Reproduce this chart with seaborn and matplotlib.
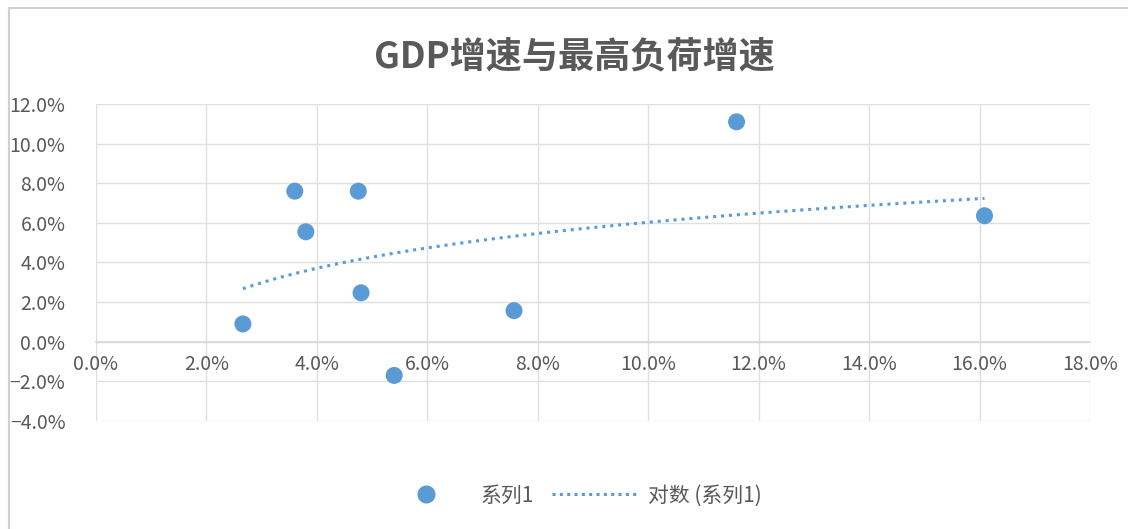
import numpy as np
import pandas as pd
import matplotlib
matplotlib.use("Agg")
import matplotlib.pyplot as plt
import seaborn as sns
from matplotlib.ticker import PercentFormatter, MultipleLocator
from matplotlib.lines import Line2D
from matplotlib.patches import Rectangle

# values (percent)
gdp_growth = [2.66, 3.60, 3.80, 4.75, 4.80, 5.40, 7.57, 11.60, 16.09]
load_growth = [0.90, 7.60, 5.55, 7.60, 2.47, -1.70, 1.57, 11.10, 6.36]
title = "GDP增速与最高负荷增速"
series_name = "系列1"
trend_name = "对数 (系列1)"

BLUE = "#5B9BD5"
GREY_TEXT = "#595959"
GRID = "#D9D9D9"

sns.set_theme(style="white")
plt.rcParams["font.family"] = ["Noto Sans CJK SC", "DejaVu Sans"]

df = pd.DataFrame({"gdp": gdp_growth, "load": load_growth})

fig = plt.figure(figsize=(11.28, 5.29), dpi=100)
ax = fig.add_axes([0.0851, 0.2042, 0.8812, 0.5992])

sns.scatterplot(data=df, x="gdp", y="load", ax=ax, s=150, color=BLUE,
                edgecolor="none", zorder=3, legend=False)

# Excel-style logarithmic trendline: y = a*ln(x) + b
a, b = np.polyfit(np.log(df["gdp"]), df["load"], 1)
xs = np.linspace(df["gdp"].min(), df["gdp"].max(), 200)
ax.plot(xs, a * np.log(xs) + b, color=BLUE, lw=2.2,
        linestyle=(0, (1, 1.6)), zorder=2)

ax.set_xlim(0, 18)
ax.set_ylim(-4, 12)
ax.xaxis.set_major_locator(MultipleLocator(2))
ax.yaxis.set_major_locator(MultipleLocator(2))
ax.xaxis.set_major_formatter(PercentFormatter(decimals=1))
ax.yaxis.set_major_formatter(PercentFormatter(decimals=1))
ax.grid(True, color="#E0E0E0", lw=1)
ax.set_axisbelow(True)
for side in ["top", "right", "left"]:
    ax.spines[side].set_visible(False)
ax.spines["bottom"].set_position(("data", 0))
ax.spines["bottom"].set_color(GRID)
ax.tick_params(axis="both", length=0, labelsize=14, labelcolor=GREY_TEXT)
ax.tick_params(axis="x", pad=9)
ax.tick_params(axis="y", pad=22)
ax.set_xlabel("")
ax.set_ylabel("")

fig.text(0.509, 0.892, title, ha="center", va="center", fontsize=26,
         fontweight="bold", color=GREY_TEXT)

handles = [
    Line2D([], [], marker="o", color=BLUE, linestyle="none", markersize=12),
    Line2D([], [], color=BLUE, lw=2.2, linestyle=(0, (1, 1.4))),
]
fig.legend(handles, [series_name, trend_name], loc="center",
           bbox_to_anchor=(0.508, 0.063), ncol=2, frameon=False,
           fontsize=15, labelcolor=GREY_TEXT, handlelength=4.0,
           columnspacing=0.9, handletextpad=0.6)

# chart frame edge visible in the reference
fig.patches.append(Rectangle((9 / 1128, -0.1), 1.2, 1.1 - 8 / 529,
                             transform=fig.transFigure, fill=False,
                             edgecolor="#D0D0D0", lw=1.5))

fig.savefig("out.png", dpi=100)
